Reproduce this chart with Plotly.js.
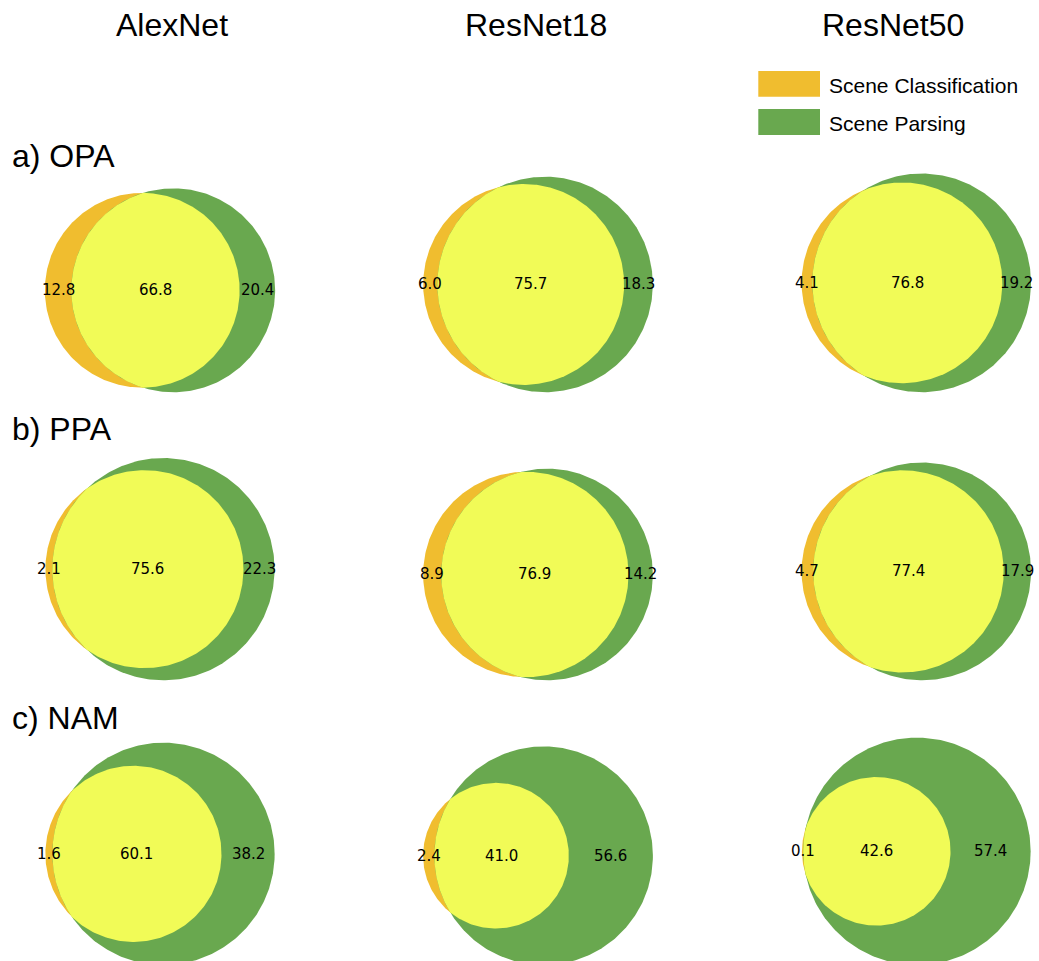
<!DOCTYPE html>
<html>
<head>
<meta charset="utf-8">
<script src="https://cdn.plot.ly/plotly-3.0.1.min.js"></script>
<style>
  html, body { margin: 0; padding: 0; background: #ffffff; }
  #chart { width: 1039px; height: 961px; }
</style>
</head>
<body>
<div id="chart"></div>
<script>
// Column (network) and row (measure) names
const models = ['AlexNet', 'ResNet18', 'ResNet50'];
const measures = ['a) OPA', 'b) PPA', 'c) NAM'];
const legendNames = ['Scene Classification', 'Scene Parsing'];

// Region sizes (percent), rows = measures, columns = models
const classOnly = [[12.8, 6.0, 4.1], [2.1, 8.9, 4.7], [1.6, 2.4, 0.1]];
const shared    = [[66.8, 75.7, 76.8], [75.6, 76.9, 77.4], [60.1, 41.0, 42.6]];
const parseOnly = [[20.4, 18.3, 19.2], [22.3, 14.2, 17.9], [38.2, 56.6, 57.4]];

// Styling / layout
const FIG_W = 1039, FIG_H = 961;
const COL_ORANGE = '#f0bd2f';
const COL_GREEN = '#69a84f';
const COL_YELLOW = '#f1fb57';
const AX_W = 269;                       // width of each venn panel in px
const colCenter = [160, 538, 916.3];    // panel centre x (px)
const rowBottom = [392.2, 680.3, 965];  // bottom of venn (px)
const titleX = [171.5, 536, 892.5];
const rowLabelY = [156, 429, 718];

function lensArea(r1, r2, d) {
  if (d >= r1 + r2) return 0;
  if (d <= Math.abs(r1 - r2)) return Math.PI * Math.min(r1, r2) ** 2;
  const a1 = r1 * r1 * Math.acos((d * d + r1 * r1 - r2 * r2) / (2 * d * r1));
  const a2 = r2 * r2 * Math.acos((d * d + r2 * r2 - r1 * r1) / (2 * d * r2));
  const a3 = 0.5 * Math.sqrt((-d + r1 + r2) * (d + r1 - r2) * (d - r1 + r2) * (d + r1 + r2));
  return a1 + a2 - a3;
}

function solveDistance(r1, r2, target) {
  let lo = Math.abs(r1 - r2), hi = r1 + r2;
  for (let i = 0; i < 200; i++) {
    const mid = (lo + hi) / 2;
    if (lensArea(r1, r2, mid) > target) lo = mid; else hi = mid;
  }
  return (lo + hi) / 2;
}

function arc(cx, cy, r, a0, a1, n) {
  const xs = [], ys = [];
  for (let i = 0; i <= n; i++) {
    const a = a0 + (a1 - a0) * i / n;
    xs.push(cx + r * Math.cos(a));
    ys.push(cy + r * Math.sin(a));
  }
  return [xs, ys];
}

const data = [];
const annotations = [];
const layout = {
  width: FIG_W, height: FIG_H,
  margin: { l: 0, r: 0, t: 0, b: 0 },
  paper_bgcolor: '#ffffff', plot_bgcolor: 'rgba(0,0,0,0)',
  showlegend: false,
  shapes: [],
  annotations: annotations,
  font: { family: 'DejaVu Sans', color: '#000000' }
};

const px = x => x / FIG_W;
const py = y => 1 - y / FIG_H;

let k = 0;
for (let i = 0; i < measures.length; i++) {
  for (let j = 0; j < models.length; j++) {
    k++;
    const total = classOnly[i][j] + shared[i][j] + parseOnly[i][j];
    const aOnly = classOnly[i][j] / total;
    const ab = shared[i][j] / total;
    const bOnly = parseOnly[i][j] / total;
    const rA = Math.sqrt((aOnly + ab) / Math.PI);
    const rB = Math.sqrt((bOnly + ab) / Math.PI);
    const d = solveDistance(rA, rB, ab);

    const minX = Math.min(-rA, d - rB), maxX = Math.max(rA, d + rB);
    const rMax = Math.max(rA, rB);
    const minY = -rMax, maxY = rMax;
    const w = maxX - minX, h = maxY - minY;
    const s = AX_W / (w + 0.2);  // px per unit

    // axis box in px, kept inside the figure
    const left = Math.max(0, colCenter[j] - AX_W / 2);
    const right = Math.min(FIG_W, colCenter[j] + AX_W / 2);
    const top = Math.max(0, rowBottom[i] - (h + 0.1) * s);
    const bottom = Math.min(FIG_H, rowBottom[i] + 0.1 * s);
    const xm = (minX + maxX) / 2;
    const xAt = p => xm + (p - colCenter[j]) / s;
    const yAt = p => minY + (rowBottom[i] - p) / s;
    const xRange = [xAt(left), xAt(right)];
    const yRange = [yAt(bottom), yAt(top)];

    const xa = 'xaxis' + (k === 1 ? '' : k), ya = 'yaxis' + (k === 1 ? '' : k);
    const xr = 'x' + (k === 1 ? '' : k), yr = 'y' + (k === 1 ? '' : k);
    const axisBase = { visible: false, showgrid: false, zeroline: false, fixedrange: true };
    layout[xa] = Object.assign({}, axisBase, { domain: [px(left), px(right)], range: xRange, anchor: yr });
    layout[ya] = Object.assign({}, axisBase, { domain: [py(bottom), py(top)], range: yRange, anchor: xr });

    // circle A (scene classification)
    const [axs, ays] = arc(0, 0, rA, 0, 2 * Math.PI, 360);
    data.push({ type: 'scatter', mode: 'lines', x: axs, y: ays, xaxis: xr, yaxis: yr,
      fill: 'toself', fillcolor: COL_ORANGE, line: { width: 0, color: COL_ORANGE }, hoverinfo: 'skip' });
    // circle B (scene parsing)
    const [bxs, bys] = arc(d, 0, rB, 0, 2 * Math.PI, 360);
    data.push({ type: 'scatter', mode: 'lines', x: bxs, y: bys, xaxis: xr, yaxis: yr,
      fill: 'toself', fillcolor: COL_GREEN, line: { width: 0, color: COL_GREEN }, hoverinfo: 'skip' });
    // intersection lens
    let lx, ly;
    if (d <= Math.abs(rA - rB)) {
      const small = rA < rB ? [0, rA] : [d, rB];
      [lx, ly] = arc(small[0], 0, small[1], 0, 2 * Math.PI, 360);
    } else {
      const x0 = (d * d + rA * rA - rB * rB) / (2 * d);
      const y0 = Math.sqrt(Math.max(0, rA * rA - x0 * x0));
      const tA = Math.atan2(y0, x0);
      const tB = Math.atan2(y0, x0 - d);
      const [a1x, a1y] = arc(0, 0, rA, -tA, tA, 240);
      const [b1x, b1y] = arc(d, 0, rB, tB, 2 * Math.PI - tB, 240);
      lx = a1x.concat(b1x); ly = a1y.concat(b1y);
    }
    data.push({ type: 'scatter', mode: 'lines', x: lx, y: ly, xaxis: xr, yaxis: yr,
      fill: 'toself', fillcolor: COL_YELLOW, line: { width: 0, color: COL_YELLOW }, hoverinfo: 'skip' });

    // region labels along the centre line
    const labels = [
      [(-rA + (d - rB)) / 2, classOnly[i][j]],
      [((d - rB) + rA) / 2, shared[i][j]],
      [(rA + (d + rB)) / 2, parseOnly[i][j]]
    ];
    labels.forEach(([lxp, v]) => {
      annotations.push({ xref: xr, yref: yr, x: lxp, y: 0, text: v.toFixed(1), showarrow: false,
        xanchor: 'center', yanchor: 'middle', font: { family: 'DejaVu Sans', size: 15, color: '#000000' } });
    });
  }
}

// column titles
models.forEach((m, j) => {
  annotations.push({ xref: 'paper', yref: 'paper', x: px(titleX[j]), y: py(25), text: m, showarrow: false,
    xanchor: 'center', yanchor: 'middle', font: { family: 'Liberation Sans', size: 32, color: '#000000' } });
});
// row labels
measures.forEach((m, i) => {
  annotations.push({ xref: 'paper', yref: 'paper', x: px(10), y: py(rowLabelY[i]), text: m, showarrow: false,
    xanchor: 'left', yanchor: 'middle', font: { family: 'Liberation Sans', size: 32, color: '#000000' } });
});
// legend patches and names
const legendColors = [COL_ORANGE, COL_GREEN];
const legendY = [[71, 96.7], [109, 135]];
legendNames.forEach((name, n) => {
  layout.shapes.push({ type: 'rect', xref: 'paper', yref: 'paper', x0: px(758.3), x1: px(820),
    y0: py(legendY[n][1]), y1: py(legendY[n][0]), fillcolor: legendColors[n], line: { width: 0 } });
  annotations.push({ xref: 'paper', yref: 'paper', x: px(826.5), y: py((legendY[n][0] + legendY[n][1]) / 2 + 1.5),
    text: name, showarrow: false, xanchor: 'left', yanchor: 'middle',
    font: { family: 'Liberation Sans', size: 21, color: '#000000' } });
});

Plotly.newPlot('chart', data, layout, { staticPlot: true, displayModeBar: false });
</script>
</body>
</html>
